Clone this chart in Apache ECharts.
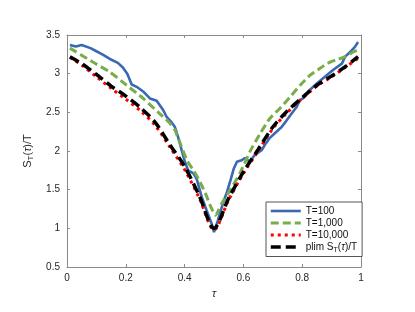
<!DOCTYPE html>
<html>
<head>
<meta charset="utf-8">
<script src="https://cdn.jsdelivr.net/npm/echarts@6/dist/echarts.min.js"></script>
<style>html,body{margin:0;padding:0;background:#fff;}#c{width:415px;height:312px;}</style>
</head>
<body>
<div id="c"></div>
<script>
// ---- data ----
var xTicks = [0, 0.2, 0.4, 0.6, 0.8, 1];
var yTicks = [0.5, 1, 1.5, 2, 2.5, 3, 3.5];
var seriesNames = ['T=100', 'T=1,000', 'T=10,000', 'plim'];

var tau100 = [0.01,0.03,0.05,0.08,0.10,0.12,0.146,0.173,0.19,0.205,0.22,0.237,0.259,0.282,0.305,0.327,0.339,0.356,0.367,0.378,0.39,0.401,0.412,0.43,0.441,0.458,0.475,0.492,0.50,0.513,0.53,0.545,0.556,0.567,0.578,0.594,0.605,0.622,0.639,0.662,0.673,0.69,0.707,0.73,0.74,0.759,0.781,0.793,0.803,0.82,0.849,0.877,0.906,0.935,0.946,0.963,0.98,0.99];
var val100 = [3.37,3.35,3.37,3.33,3.29,3.25,3.19,3.14,3.08,3.00,2.86,2.83,2.77,2.68,2.65,2.53,2.44,2.37,2.31,2.18,2.01,1.86,1.75,1.71,1.64,1.41,1.23,1.06,0.95,1.10,1.32,1.48,1.62,1.77,1.86,1.88,1.91,1.86,1.95,2.01,2.08,2.17,2.23,2.31,2.36,2.46,2.57,2.66,2.68,2.77,2.87,2.96,3.05,3.13,3.22,3.28,3.35,3.41];

var tau1000 = [0.01,0.088,0.146,0.203,0.259,0.316,0.35,0.367,0.385,0.408,0.43,0.447,0.47,0.49,0.505,0.526,0.554,0.588,0.622,0.656,0.69,0.724,0.759,0.793,0.827,0.861,0.895,0.918,0.946,0.973,0.99];
var val1000 = [3.33,3.15,3.02,2.85,2.68,2.48,2.36,2.27,2.10,1.88,1.75,1.64,1.46,1.27,1.17,1.32,1.49,1.71,1.99,2.22,2.42,2.55,2.70,2.85,2.98,3.07,3.15,3.18,3.22,3.28,3.31];

var tauLim = [0.01,0.05,0.10,0.15,0.20,0.25,0.30,0.35,0.40,0.45,0.50,0.55,0.60,0.65,0.70,0.75,0.80,0.85,0.90,0.95,0.99];
var val10000 = [3.21,3.11,2.96,2.81,2.67,2.52,2.33,2.05,1.76,1.39,0.98,1.37,1.71,2.00,2.29,2.50,2.68,2.84,2.96,3.09,3.20];
var valPlim = [3.22,3.13,2.99,2.84,2.71,2.56,2.37,2.08,1.80,1.42,1.00,1.39,1.73,2.02,2.31,2.52,2.69,2.85,2.97,3.10,3.22];

function pairs(t, v) { return t.map(function (x, i) { return [x, v[i]]; }); }

var FONT = 'Liberation Sans, Arial, Helvetica, sans-serif';
var AX = '#8a8a8a';
var TXT = '#262626';

var chart = echarts.init(document.getElementById('c'), null, {renderer: 'canvas'});

function baseX(pos, showLabel) {
  return {
    type: 'value', position: pos, min: 0, max: 1, interval: 0.2,
    axisLine: {show: true, onZero: false, lineStyle: {color: AX, width: 1}},
    axisTick: {show: true, inside: true, length: 3, lineStyle: {color: AX}},
    axisLabel: {show: showLabel, color: TXT, fontSize: 10, fontFamily: FONT, margin: 6,
      formatter: function (v) { return String(+v.toFixed(1)); }},
    splitLine: {show: false}
  };
}
function baseY(pos, showLabel) {
  return {
    type: 'value', position: pos, min: 0.5, max: 3.5, interval: 0.5,
    axisLine: {show: true, onZero: false, lineStyle: {color: AX, width: 1}},
    axisTick: {show: true, inside: true, length: 3, lineStyle: {color: AX}},
    axisLabel: {show: showLabel, color: TXT, fontSize: 10, fontFamily: FONT, margin: 7,
      formatter: function (v) { return String(+v.toFixed(1)); }},
    splitLine: {show: false}
  };
}

var xMain = baseX('bottom', true);
xMain.name = 'τ';
xMain.nameLocation = 'middle';
xMain.nameGap = 21;
xMain.nameTextStyle = {fontSize: 11, fontStyle: 'italic', color: TXT, fontFamily: FONT};
var xTop = baseX('top', false);

var yMain = baseY('left', true);
yMain.name = '{n|S}{sub|T}{n|(}{i|τ}{n|)/T}';
yMain.nameLocation = 'middle';
yMain.nameGap = 31;
yMain.nameTextStyle = {
  color: TXT, fontFamily: FONT, fontSize: 11,
  rich: {
    n: {fontSize: 11, lineHeight: 15, color: TXT, fontFamily: FONT},
    i: {fontSize: 11, lineHeight: 15, color: TXT, fontFamily: FONT, fontStyle: 'italic'},
    sub: {fontSize: 8, lineHeight: 8, verticalAlign: 'bottom', color: TXT, fontFamily: FONT}
  }
};
var yRight = baseY('right', false);

var option = {
  animation: false,
  backgroundColor: '#ffffff',
  grid: {left: 67, right: 54, top: 35, bottom: 45, containLabel: false},
  xAxis: [xMain, xTop],
  yAxis: [yMain, yRight],
  legend: {
    left: 266, top: 202, orient: 'vertical',
    width: 87,
    backgroundColor: '#ffffff',
    borderColor: '#555', borderWidth: 1,
    padding: [4, 5, 3, 3],
    itemGap: 2, itemWidth: 30, itemHeight: 10,
    itemStyle: {opacity: 0},
    lineStyle: {width: 'inherit'},
    textStyle: {fontSize: 10, color: '#111', fontFamily: FONT,
      rich: {
        n: {fontSize: 10, lineHeight: 13, color: '#111', fontFamily: FONT},
        i: {fontSize: 10, lineHeight: 13, color: '#111', fontFamily: FONT, fontStyle: 'italic'},
        sub: {fontSize: 7, lineHeight: 7, verticalAlign: 'bottom', color: '#111', fontFamily: FONT}
      }},
    formatter: function (name) {
      if (name === 'plim') return '{n|plim S}{sub|T}{n|(}{i|τ}{n|)/T}';
      return name;
    },
    data: seriesNames
  },
  series: [
    {
      name: seriesNames[0], type: 'line', xAxisIndex: 0, yAxisIndex: 0,
      data: pairs(tau100, val100), symbol: 'none', showSymbol: false, smooth: false, z: 2,
      lineStyle: {color: '#3a68b4', width: 2.6},
      itemStyle: {color: '#3a68b4'}
    },
    {
      name: seriesNames[1], type: 'line', xAxisIndex: 0, yAxisIndex: 0,
      data: pairs(tau1000, val1000), symbol: 'none', showSymbol: false, smooth: 0.2, z: 3,
      lineStyle: {color: '#78ad4a', width: 3, type: [8, 4]},
      itemStyle: {color: '#78ad4a'}
    },
    {
      name: seriesNames[2], type: 'line', xAxisIndex: 0, yAxisIndex: 0,
      data: pairs(tauLim, val10000), symbol: 'none', showSymbol: false, smooth: 0.3, z: 4,
      lineStyle: {color: '#ff0000', width: 3, type: [3, 4]},
      itemStyle: {color: '#ff0000'}
    },
    {
      name: seriesNames[3], type: 'line', xAxisIndex: 0, yAxisIndex: 0,
      data: pairs(tauLim, valPlim), symbol: 'none', showSymbol: false, smooth: 0.3, z: 5,
      lineStyle: {color: '#000000', width: 3.5, type: [10, 5]},
      itemStyle: {color: '#000000'}
    }
  ]
};
chart.setOption(option);
</script>
</body>
</html>
